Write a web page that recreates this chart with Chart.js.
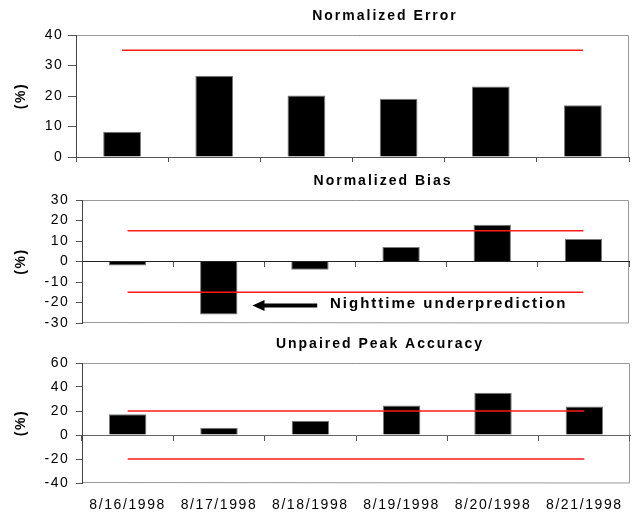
<!DOCTYPE html>
<html><head><meta charset="utf-8">
<script src="https://cdn.jsdelivr.net/npm/chart.js@4.4.1/dist/chart.umd.min.js"></script>
<style>
html,body{margin:0;padding:0;background:#fff;}
#wrap{position:relative;width:633px;height:512px;overflow:hidden;background:#fff;}
canvas{position:absolute;left:0;}
</style></head><body>
<div id="wrap">
<canvas id="c1" width="633" height="170" style="top:0px"></canvas>
<canvas id="c2" width="633" height="160" style="top:170px"></canvas>
<canvas id="c3" width="633" height="182" style="top:330px"></canvas>
</div>
<script>
// ---- data ----
const DATES = ['8/16/1998','8/17/1998','8/18/1998','8/19/1998','8/20/1998','8/21/1998'];
const ERROR_VALUES = [8.3, 26.6, 20.2, 19.1, 23.1, 17.0];
const ERROR_GOAL   = [35, 35, 35, 35, 35, 35];
const BIAS_VALUES  = [-1.9, -25.8, -4.0, 7.1, 17.9, 11.0];
const BIAS_UPPER   = [15, 15, 15, 15, 15, 15];
const BIAS_LOWER   = [-15, -15, -15, -15, -15, -15];
const PEAK_VALUES  = [17.2, 6.0, 11.8, 24.6, 35.2, 23.8];
const PEAK_UPPER   = [20, 20, 20, 20, 20, 20];
const PEAK_LOWER   = [-20, -20, -20, -20, -20, -20];
const TITLES = ['Normalized Error', 'Normalized Bias', 'Unpaired Peak Accuracy'];
const Y_TITLE = '(%)';
const NOTE_TEXT = 'Nighttime underprediction';

// ---- styling ----
const FONT = "'Liberation Sans', Arial, sans-serif";
Chart.defaults.font.family = FONT;

const spacingPlugin = {
  id: 'spacing',
  beforeUpdate(c) { c.ctx.letterSpacing = '1.6px'; },
  beforeDraw(c) { c.ctx.letterSpacing = '1.6px'; }
};

const framePlugin = {
  id: 'frame',
  beforeDraw(c, args, opts) {
    const {left, right, top, bottom} = c.chartArea;
    const ctx = c.ctx;
    ctx.save();
    ctx.strokeStyle = '#999';
    ctx.lineWidth = 1;
    ctx.beginPath();
    ctx.moveTo(left, top + 0.5);
    ctx.lineTo(right - 0.5, top + 0.5);
    ctx.lineTo(right - 0.5, bottom);
    if (opts.bottom) ctx.lineTo(left, bottom - 0.5);
    ctx.stroke();
    ctx.strokeStyle = '#444';
    ctx.beginPath();
    ctx.moveTo(left + 0.5, top);
    ctx.lineTo(left + 0.5, bottom);
    ctx.stroke();
    ctx.restore();
  }
};

const panelTitlePlugin = {
  id: 'panelTitle',
  afterDraw(c, args, opts) {
    if (!opts.text) return;
    const ctx = c.ctx;
    ctx.save();
    ctx.letterSpacing = '2px';
    ctx.font = 'bold 14px ' + FONT;
    ctx.fillStyle = '#000';
    ctx.textAlign = 'center';
    ctx.textBaseline = 'middle';
    ctx.fillText(opts.text, opts.x + 1, c.chartArea.top - 18.5);
    ctx.restore();
  }
};

const notePlugin = {
  id: 'note',
  afterDatasetsDraw(c, args, opts) {
    if (!opts.text) return;
    const xs = c.scales.x, ys = c.scales.y, ctx = c.ctx;
    const y = ys.getPixelForValue(opts.value);
    const xTail = xs.getPixelForValue(opts.from);
    const xTip = xs.getPixelForValue(opts.to);
    const xText = xs.getPixelForValue(opts.textAt);
    ctx.save();
    ctx.fillStyle = '#000';
    ctx.strokeStyle = '#000';
    ctx.lineWidth = 4;
    ctx.beginPath();
    ctx.moveTo(xTail, y);
    ctx.lineTo(xTip + 10, y);
    ctx.stroke();
    ctx.beginPath();
    ctx.moveTo(xTip, y);
    ctx.lineTo(xTip + 12, y - 5.5);
    ctx.lineTo(xTip + 12, y + 5.5);
    ctx.closePath();
    ctx.fill();
    ctx.letterSpacing = '2px';
    ctx.font = 'bold 15px ' + FONT;
    ctx.textAlign = 'left';
    ctx.textBaseline = 'middle';
    ctx.fillText(opts.text, xText, y - 2);
    ctx.restore();
  }
};

function panel(id, o) {
  const datasets = [{
    type: 'bar', data: o.values, backgroundColor: '#000', borderColor: '#7a7a7a',
    borderWidth: 1, barPercentage: 0.41, categoryPercentage: 1, order: 2
  }];
  o.limits.forEach(l => datasets.push({
    type: 'line', data: l, borderColor: '#ff1a1a', borderWidth: 1.5,
    pointRadius: 0, fill: false, order: 1
  }));
  const scales = {
    x: {
      type: 'category', position: o.zeroAxis ? {y: 0} : 'bottom', offset: true,
      grid: {offset: true, drawOnChartArea: false, drawTicks: true, tickLength: 5, color: '#555'},
      border: {display: true, color: o.zeroColor, width: 1},
      ticks: {display: false},
      afterFit: s => { s.height = 0; s.paddingLeft = 0; s.paddingRight = 0; }
    },
    y: {
      type: 'linear', position: 'left', min: o.min, max: o.max,
      ticks: {stepSize: o.step, color: '#000', padding: o.tickPad, font: {family: FONT, size: 14}},
      grid: {drawOnChartArea: false, tickLength: o.tickLen, color: '#555'},
      border: {display: true, color: '#444', width: 1},
      title: {display: true, text: Y_TITLE, color: '#000',
        font: {family: FONT, size: 14, weight: 'bold'}, padding: {top: 12.6, bottom: 0}},
      afterFit: s => { s.width = o.axisW; s.paddingTop = 0; s.paddingBottom = 0; }
    }
  };
  if (o.showLabels) {
    scales.xl = {
      type: 'category', position: 'bottom', offset: true,
      grid: {display: false}, border: {display: false},
      ticks: {color: '#000', padding: 6, font: {family: FONT, size: 14}, maxRotation: 0, autoSkip: false},
      afterFit: s => { s.height = 29; s.paddingLeft = 0; s.paddingRight = 0; }
    };
  }
  return new Chart(document.getElementById(id), {
    type: 'bar',
    data: {labels: DATES, datasets},
    options: {
      responsive: false, animation: false, devicePixelRatio: 1,
      layout: {padding: o.padding, autoPadding: false},
      plugins: {
        legend: {display: false}, tooltip: {enabled: false}, title: {display: false},
        frame: {bottom: o.zeroAxis},
        panelTitle: {text: o.title, x: o.titleX},
        note: o.note || {}
      },
      scales
    },
    plugins: [spacingPlugin, framePlugin, panelTitlePlugin, notePlugin]
  });
}

panel('c1', {
  values: ERROR_VALUES, limits: [ERROR_GOAL], min: 0, max: 40, step: 10,
  axisW: 76, tickLen: 8, tickPad: 4.5, zeroAxis: false, zeroColor: '#555',
  padding: {left: 0, right: 4, top: 35, bottom: 13}, title: TITLES[0], titleX: 384
});
panel('c2', {
  values: BIAS_VALUES, limits: [BIAS_UPPER, BIAS_LOWER], min: -30, max: 30, step: 10,
  axisW: 82, tickLen: 6, tickPad: 6.5, zeroAxis: true, zeroColor: '#222',
  padding: {left: 0, right: 4, top: 30, bottom: 7}, title: TITLES[1], titleX: 382,
  note: {text: NOTE_TEXT, from: 2.08, to: 1.37, textAt: 2.22, value: -21.5}
});
panel('c3', {
  values: PEAK_VALUES, limits: [PEAK_UPPER, PEAK_LOWER], min: -40, max: 60, step: 20,
  axisW: 82, tickLen: 6, tickPad: 6.5, zeroAxis: true, zeroColor: '#666',
  padding: {left: 0, right: 3, top: 33, bottom: 0}, title: TITLES[2], titleX: 379,
  showLabels: true
});
</script>
</body></html>
